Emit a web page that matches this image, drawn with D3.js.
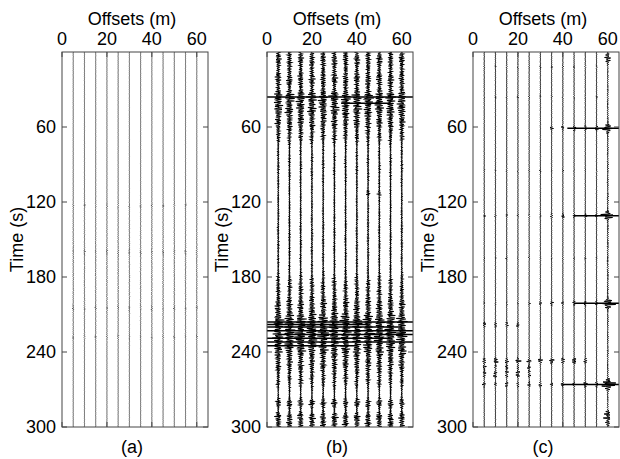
<!DOCTYPE html>
<html>
<head>
<meta charset="utf-8">
<script src="https://cdn.jsdelivr.net/npm/d3@7"></script>
<style>
  body { margin: 0; background: #fff; }
  text { font-family: "Liberation Sans", Arial, sans-serif; fill: #000; }
</style>
</head>
<body>
<svg id="chart" width="620" height="459"></svg>
<script>
// receiver offsets (m), one trace each
var offsets = [5, 10, 15, 20, 25, 30, 35, 40, 45, 50, 55, 60];
var xTicks = [0, 20, 40, 60];
var yTicks = [60, 120, 180, 240, 300];
var panelNames = ['(a)', '(b)', '(c)'];

// energy bursts:
// [time (s), half width (s), amplitude (m of offset), first offset, last offset]
var burstsA = [
  [175, 45, 0.15, 5, 60],
  [123, 1.5, 0.4, 5, 60],
  [160, 2, 0.3, 5, 60],
  [205, 2, 0.35, 5, 60],
  [228, 2, 0.35, 5, 60]
];
var burstsB = [
  [6, 8, 1.4, 5, 60],
  [22, 6, 1.6, 5, 60],
  [36, 5, 2.6, 5, 60],
  [46, 6, 2.3, 5, 60],
  [57, 5, 1.5, 5, 60],
  [67, 5, 0.8, 5, 60],
  [90, 15, 0.2, 5, 60],
  [113, 1.5, 1.0, 45, 50],
  [150, 30, 0.15, 5, 60],
  [188, 8, 0.8, 5, 60],
  [202, 6, 1.5, 5, 60],
  [214, 6, 2.6, 5, 60],
  [226, 7, 3.0, 5, 60],
  [238, 6, 2.2, 5, 60],
  [250, 6, 1.4, 5, 60],
  [262, 6, 0.7, 5, 60],
  [281, 3, 1.6, 5, 60],
  [292, 3, 1.8, 5, 60],
  [298, 3, 1.5, 5, 60]
];
var burstsC = [
  [150, 200, 0.3, 60, 60],
  [5, 4, 1.4, 60, 60],
  [12, 1, 0.4, 5, 55],
  [36, 1, 0.4, 5, 55],
  [61, 1.8, 1.0, 35, 55],
  [61, 2.5, 3.6, 60, 60],
  [95, 1, 0.4, 5, 55],
  [131, 1.2, 0.5, 5, 30],
  [131, 1.8, 0.9, 35, 55],
  [131, 2.5, 3.6, 60, 60],
  [165, 1, 0.4, 5, 55],
  [201, 1.2, 0.5, 5, 25],
  [201, 1.8, 0.9, 30, 55],
  [201, 3, 3.8, 60, 60],
  [218, 1.8, 1.0, 5, 20],
  [247, 1.8, 1.6, 5, 50],
  [252, 1.4, 1.1, 5, 25],
  [256, 1.4, 1.1, 5, 25],
  [259, 1.4, 1.0, 5, 25],
  [266, 1.8, 1.0, 5, 45],
  [266, 1.8, 1.3, 50, 55],
  [266, 3.5, 4.0, 60, 60],
  [289, 1.5, 2.0, 60, 60],
  [293, 1.5, 2.2, 60, 60],
  [297, 1.5, 2.0, 60, 60]
];
var baseAmp = [0.07, 0.22, 0.12];

// clipped horizontal events: [time (s), from offset, to offset]
var linesA = [];
var linesB = [
  [36, 0, 65], [41, 33, 55],
  [216, 0, 65], [218, 0, 45], [220, 0, 60], [223, 0, 65], [226, 5, 65],
  [229, 0, 55], [232, 0, 65], [235, 0, 40]
];
var linesC = [[61, 42, 65], [131, 45, 65], [201, 45, 65], [266, 40, 65]];

var panels = [
  {left: 62, bursts: burstsA, lines: linesA, base: baseAmp[0], stroke: '#333', sw: 0.8},
  {left: 267, bursts: burstsB, lines: linesB, base: baseAmp[1], stroke: '#000', sw: 1.1},
  {left: 473, bursts: burstsC, lines: linesC, base: baseAmp[2], stroke: '#000', sw: 1}
];

var plotTop = 52, plotBottom = 427, pw = 146;
var svg = d3.select('#chart');

// wiggle carrier (drawing only, not data)
var wave = function (t, k) {
  return 0.5 * Math.sin(t * 3.7 + k * 1.3) + 0.3 * Math.sin(t * 5.9 + k * 2.1) + 0.2 * Math.sin(t * 9.3 + k * 0.7);
};

var times = d3.range(0, 300.01, 0.4);

panels.forEach(function (p, pi) {
  var x = d3.scaleLinear().domain([0, 65]).range([p.left, p.left + pw]);
  var y = d3.scaleLinear().domain([0, 300]).range([plotTop, plotBottom]);
  var g = svg.append('g');

  var env = function (t, off) {
    var e = p.base;
    p.bursts.forEach(function (b) {
      if (off >= b[3] && off <= b[4]) {
        e += b[2] * Math.exp(-Math.pow((t - b[0]) / b[1], 2));
      }
    });
    return e;
  };

  var clip = 'clip' + pi;
  svg.append('clipPath').attr('id', clip)
    .append('rect').attr('x', p.left).attr('y', plotTop).attr('width', pw).attr('height', plotBottom - plotTop);

  var traces = g.append('g').attr('clip-path', 'url(#' + clip + ')');
  offsets.forEach(function (off, k) {
    var line = d3.line()
      .x(function (t) { return x(off + env(t, off) * wave(t, k)); })
      .y(function (t) { return y(t); });
    traces.append('path')
      .attr('d', line(times))
      .attr('fill', 'none')
      .attr('stroke', p.stroke)
      .attr('stroke-width', p.sw);
  });

  traces.selectAll('.event')
    .data(p.lines)
    .enter().append('line')
      .attr('x1', function (d) { return x(d[1]); })
      .attr('x2', function (d) { return x(d[2]); })
      .attr('y1', function (d) { return y(d[0]); })
      .attr('y2', function (d) { return y(d[0]); })
      .attr('stroke', '#000')
      .attr('stroke-width', 1.4);

  // box
  g.append('rect')
    .attr('x', p.left).attr('y', plotTop)
    .attr('width', pw).attr('height', plotBottom - plotTop)
    .attr('fill', 'none').attr('stroke', '#444').attr('stroke-width', 1);

  // ticks, inward on both sides
  yTicks.forEach(function (v) {
    g.append('line').attr('x1', p.left).attr('x2', p.left + 5)
      .attr('y1', y(v)).attr('y2', y(v)).attr('stroke', '#444');
    g.append('line').attr('x1', p.left + pw).attr('x2', p.left + pw - 5)
      .attr('y1', y(v)).attr('y2', y(v)).attr('stroke', '#444');
    g.append('text').attr('x', p.left - 6).attr('y', y(v) + 6)
      .attr('text-anchor', 'end').attr('font-size', 18).text(v);
  });
  xTicks.forEach(function (v) {
    g.append('line').attr('x1', x(v)).attr('x2', x(v))
      .attr('y1', plotTop).attr('y2', plotTop + 5).attr('stroke', '#444');
    g.append('line').attr('x1', x(v)).attr('x2', x(v))
      .attr('y1', plotBottom).attr('y2', plotBottom - 5).attr('stroke', '#444');
    g.append('text').attr('x', x(v)).attr('y', 45)
      .attr('text-anchor', 'middle').attr('font-size', 18).text(v);
  });

  var cx = p.left + pw / 2 - 3;
  g.append('text').attr('x', cx).attr('y', 25)
    .attr('text-anchor', 'middle').attr('font-size', 18).text('Offsets (m)');
  g.append('text').attr('transform', 'translate(' + (p.left - 39) + ',' + ((plotTop + plotBottom) / 2) + ') rotate(-90)')
    .attr('text-anchor', 'middle').attr('font-size', 18).text('Time (s)');
  g.append('text').attr('x', cx).attr('y', 453)
    .attr('text-anchor', 'middle').attr('font-size', 18).text(panelNames[pi]);
});
</script>
</body>
</html>
